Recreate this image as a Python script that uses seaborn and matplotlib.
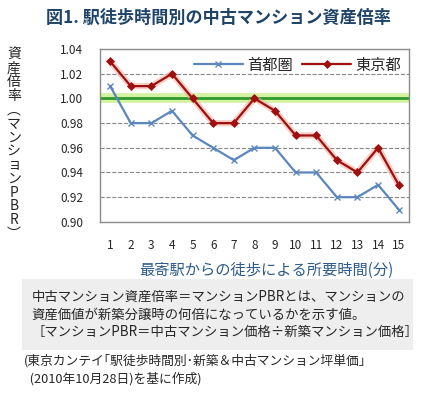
import pandas as pd
import matplotlib.pyplot as plt
import seaborn as sns

# data
minutes = list(range(1, 16))
shutoken = [1.01, 0.98, 0.98, 0.99, 0.97, 0.96, 0.95, 0.96, 0.96, 0.94, 0.94, 0.92, 0.92, 0.93, 0.91]
tokyo = [1.03, 1.01, 1.01, 1.02, 1.00, 0.98, 0.98, 1.00, 0.99, 0.97, 0.97, 0.95, 0.94, 0.96, 0.93]
series_names = ["首都圏", "東京都"]
y_ticks = [0.90, 0.92, 0.94, 0.96, 0.98, 1.00, 1.02, 1.04]

df_s = pd.DataFrame({"分": minutes, "PBR": shutoken})
df_t = pd.DataFrame({"分": minutes, "PBR": tokyo})

sns.set_style("white")
plt.rcParams['font.family'] = ['Noto Sans CJK JP', 'DejaVu Sans']

fig = plt.figure(figsize=(4.36, 3.99), dpi=100)
ax = fig.add_axes([0.229, 0.444, 0.709, 0.433])

# glow under the lines
ax.axhline(1.00, color="#C8F08C", lw=7, alpha=0.8, zorder=1)
ax.axhline(1.00, color="#2E9A2E", lw=2, zorder=2)
sns.lineplot(data=df_t, x="分", y="PBR", color="#F4B0A0",
             lw=4.5, alpha=0.6, legend=False, ax=ax, zorder=3)

sns.lineplot(data=df_s, x="分", y="PBR", color="#5B87BE", marker="x",
             lw=1.6, markersize=5, markeredgewidth=1.0, markeredgecolor="#5B87BE",
             label=series_names[0], ax=ax, zorder=4)
sns.lineplot(data=df_t, x="分", y="PBR", color="#9E0F10", marker="D",
             lw=1.6, markersize=4.5, markeredgewidth=0.5, markeredgecolor="#9E0F10",
             label=series_names[1], ax=ax, zorder=5)

ax.set_xlim(0.5, 15.5)
ax.set_ylim(0.90, 1.04)
ax.set_yticks(y_ticks)
ax.set_yticklabels([f"{v:.2f}" for v in y_ticks], fontsize=8.5)
ax.set_xticks(minutes)
ax.set_xticklabels([str(m) for m in minutes], fontsize=8.5)
ax.set_xticks([m + 0.5 for m in range(0, 16)], minor=True)
ax.tick_params(axis="x", which="major", length=0, pad=12)
ax.tick_params(axis="x", which="minor", length=4, color="#888888", direction="out")
ax.tick_params(axis="y", length=4, color="#888888", direction="out", pad=8)
ax.grid(axis="y", linestyle="--", color="#888888", lw=0.8)
for s in ax.spines.values():
    s.set_color("#8C8C8C")
    s.set_linewidth(1)
ax.set_xlabel("")
ax.set_ylabel("")

leg = ax.legend(loc="upper right", frameon=False, fontsize=11, ncol=2,
                handlelength=3.2, columnspacing=0.6, handletextpad=0.3,
                borderaxespad=0.1)

fig.text(0.5, 0.955, "図1. 駅徒歩時間別の中古マンション資産倍率", ha="center", va="center",
         fontsize=12.3, color="#1F4468", fontweight="bold")
ylab = "資産倍率︵マンションPBR︶"
fig.text(0.032, 0.638, "\n".join(ylab), ha="center", va="center",
         fontsize=10, linespacing=0.98)
fig.text(0.61, 0.323, "最寄駅からの徒歩による所要時間(分)", ha="center", va="center",
         fontsize=11, color="#2E5C8A")

fig.patches.append(plt.Rectangle((0.05, 0.123), 0.897, 0.178, transform=fig.transFigure,
                                 facecolor="#EEEEEE", edgecolor="none"))
fig.text(0.072, 0.212,
         "中古マンション資産倍率＝マンションPBRとは、マンションの\n"
         "資産価値が新築分譲時の何倍になっているかを示す値。\n"
         "［マンションPBR＝中古マンション価格÷新築マンション価格］",
         ha="left", va="center", fontsize=9.6, linespacing=1.3)
fig.text(0.055, 0.073, "(東京カンテイ｢駅徒歩時間別･新築＆中古マンション坪単価｣\n"
         "  (2010年10月28日)を基に作成)",
         ha="left", va="center", fontsize=9.2, linespacing=1.4)

fig.savefig("out.png", dpi=100)
